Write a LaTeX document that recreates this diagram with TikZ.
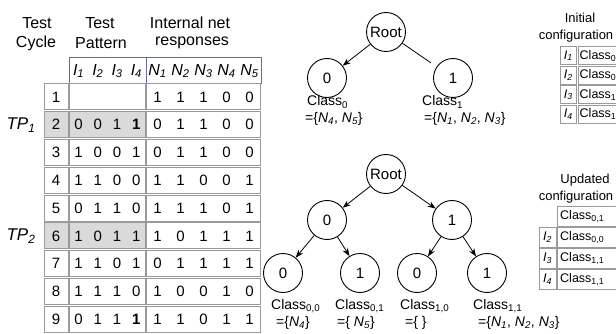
\documentclass[tikz,border=0pt]{standalone}
\usepackage{fontspec}
\setmainfont{Liberation Sans}
\usetikzlibrary{arrows.meta}
\newcommand\Isig[1]{\textit{I}\textsubscript{\textit{#1}}}
\newcommand\Nsig[1]{\textit{N}\textsubscript{\textit{#1}}}
\newcommand\Csig[1]{Class\textsubscript{#1}}
\definecolor{cellgray}{HTML}{9A9A9A}
\definecolor{hdrline}{HTML}{6A6A98}
\definecolor{shadegray}{HTML}{DADADA}
\begin{document}
\begin{tikzpicture}[x=1pt,y=-1pt,
  cell/.style={draw=cellgray, line width=0.9pt},
  shadecell/.style={cell, fill=shadegray},
  hdr/.style={font=\fontsize{16}{16}\selectfont, inner sep=0pt},
  dig/.style={font=\fontsize{15}{15}\selectfont, inner sep=0pt},
  tnode/.style={circle, draw, line width=0.9pt, minimum size=39pt, inner sep=0pt, font=\fontsize{15}{15}\selectfont},
  edge/.style={-{Stealth[length=8pt,width=6pt]}, line width=0.8pt},
  lbl/.style={font=\fontsize{14}{14}\selectfont, inner sep=0pt, anchor=west},
  cfg/.style={font=\fontsize{13}{13}\selectfont, inner sep=0pt},
  cfgin/.style={font=\fontsize{12.5}{12.5}\selectfont, inner sep=0pt},
]
\useasboundingbox (0,0) rectangle (616,334);

% ---------- column headings ----------
\node[hdr] (hc1) at (37,23) {Test};
\node[hdr] (hc2) at (36,43) {Cycle};
\node[hdr] (hp1) at (100,23) {Test};
\node[hdr] (hp2) at (101,43) {Pattern};
\node[hdr] (hn1) at (190,23) {Internal net};
\node[hdr] (hn2) at (192,43) {responses};

% ---------- signal header row ----------
\draw[draw=hdrline, line width=0.9pt] (69,57) rectangle (261,83);
\draw[draw=hdrline, line width=0.9pt] (146,57) -- (146,83);
\foreach \k in {1,...,4}
  \node[hdr] (hi\k) at ({69+(\k-0.5)*19.25},71) {\Isig{\k}};
\foreach \k in {1,...,5}
  \node[hdr] (hN\k) at ({146+(\k-0.5)*23},71) {\Nsig{\k}};

% ---------- table body ----------
\foreach \r/\a/\b/\c/\d/\e/\f/\g/\h/\i in {
  1/{}/{}/{}/{}/1/1/1/0/0,
  2/0/0/1/\textbf{1}/0/1/1/0/0,
  3/1/0/0/1/0/1/1/0/0,
  4/1/1/0/0/1/1/0/0/1,
  5/0/1/1/0/1/1/1/0/1,
  6/1/0/1/1/1/0/1/1/1,
  7/1/1/0/1/0/1/1/1/1,
  8/1/1/1/0/1/0/0/1/0,
  9/0/1/1/\textbf{1}/1/1/0/1/1}{
  \pgfmathsetmacro\tp{83+(\r-1)*27.8}
  \pgfmathsetmacro\bt{\tp+27.8}
  \pgfmathsetmacro\cy{\tp+13.9}
  \ifnum\r=2 \def\sty{shadecell}\else\ifnum\r=6 \def\sty{shadecell}\else\def\sty{cell}\fi\fi
  \draw[\sty] (44,\tp+0.9) rectangle (68.1,\bt-0.9);
  \draw[\sty] (69.9,\tp+0.9) rectangle (145.1,\bt-0.9);
  \draw[cell] (146.9,\tp+0.9) rectangle (260,\bt-0.9);
  \node[dig] (cyc\r) at (56,\cy) {\r};
  \node[dig] (p\r-1) at (78.6,\cy) {\a};
  \node[dig] (p\r-2) at (97.9,\cy) {\b};
  \node[dig] (p\r-3) at (117.1,\cy) {\c};
  \node[dig] (p\r-4) at (136.4,\cy) {\d};
  \node[dig] (n\r-1) at (157.5,\cy) {\e};
  \node[dig] (n\r-2) at (180.5,\cy) {\f};
  \node[dig] (n\r-3) at (203.5,\cy) {\g};
  \node[dig] (n\r-4) at (226.5,\cy) {\h};
  \node[dig] (n\r-5) at (249.5,\cy) {\i};
}
\node[hdr, font=\fontsize{17}{17}\selectfont] (tp1) at (21,125) {\textit{TP}\textsubscript{\textit{1}}};
\node[hdr, font=\fontsize{17}{17}\selectfont] (tp2) at (21,236) {\textit{TP}\textsubscript{\textit{2}}};

% ---------- initial tree ----------
\node[tnode] (ra) at (386,32) {Root};
\node[tnode] (a0) at (327,78) {0};
\node[tnode] (a1) at (453,78) {1};
\draw[edge] (ra) -- (a0);
\draw[line width=0.8pt, shorten >=7pt] (ra) -- (a1);
\node[lbl] (ca0) at (307,102) {\Csig{0}};
\node[lbl] (sa0) at (305,119) {=\{\Nsig{4}, \Nsig{5}\}};
\node[lbl] (ca1) at (422,102) {\Csig{1}};
\node[lbl] (sa1) at (424,119) {=\{\Nsig{1}, \Nsig{2}, \Nsig{3}\}};

% ---------- initial configuration ----------
\node[cfg] (it1) at (580,18) {Initial};
\node[cfg] (it2) at (576,36) {configuration};
\foreach \r/\s in {1/0,2/0,3/1,4/1}{
  \pgfmathsetmacro\tp{46+(\r-1)*19.5}
  \draw[cell] (560,\tp+0.8) rectangle (576.7,\tp+18.7);
  \draw[cell] (578.3,\tp+0.8) rectangle (617,\tp+18.7);
  \node[cfgin] (ii\r) at (568.3,\tp+9.75) {\Isig{\r}};
  \node[cfgin, anchor=west] (ic\r) at (579.5,\tp+9.75) {\Csig{\s}};
}

% ---------- updated tree ----------
\node[tnode] (rb) at (386,174) {Root};
\node[tnode] (b0) at (327,220) {0};
\node[tnode] (b1) at (452,220) {1};
\node[tnode] (b00) at (283,273) {0};
\node[tnode] (b01) at (360,273) {1};
\node[tnode] (b10) at (417,273) {0};
\node[tnode] (b11) at (487,273) {1};
\draw[edge] (rb) -- (b0);
\draw[edge] (rb) -- (b1);
\draw[edge] (b0) -- (b00);
\draw[edge] (b0) -- (b01);
\draw[edge] (b1) -- (b10);
\draw[edge] (b1) -- (b11);
\node[lbl] (cb00) at (271,306) {\Csig{0,0}};
\node[lbl] (sb00) at (276,323) {=\{\Nsig{4}\}};
\node[lbl] (cb01) at (335,306) {\Csig{0,1}};
\node[lbl] (sb01) at (337,323) {=\{ \Nsig{5}\}};
\node[lbl] (cb10) at (400,306) {\Csig{1,0}};
\node[lbl] (sb10) at (405,323) {=\{ \}};
\node[lbl] (cb11) at (473,306) {\Csig{1,1}};
\node[lbl] (sb11) at (478,323) {=\{\Nsig{1}, \Nsig{2}, \Nsig{3}\}};

% ---------- updated configuration ----------
\node[cfg] (ut1) at (585,180) {Updated};
\node[cfg] (ut2) at (576,197) {configuration};
\foreach \r/\s in {1/{0,1},2/{0,0},3/{1,1},4/{1,1}}{
  \pgfmathsetmacro\tp{206+(\r-1)*21}
  \ifnum\r>1
    \draw[cell] (539,\tp+0.8) rectangle (556.2,\tp+20.2);
    \node[cfgin] (ui\r) at (547.5,\tp+10.5) {\Isig{\r}};
  \fi
  \draw[cell] (557.8,\tp+0.8) rectangle (617,\tp+20.2);
  \node[cfgin, anchor=west] (uc\r) at (560,\tp+10.5) {\Csig{\s}};
}
\end{tikzpicture}
\end{document}
